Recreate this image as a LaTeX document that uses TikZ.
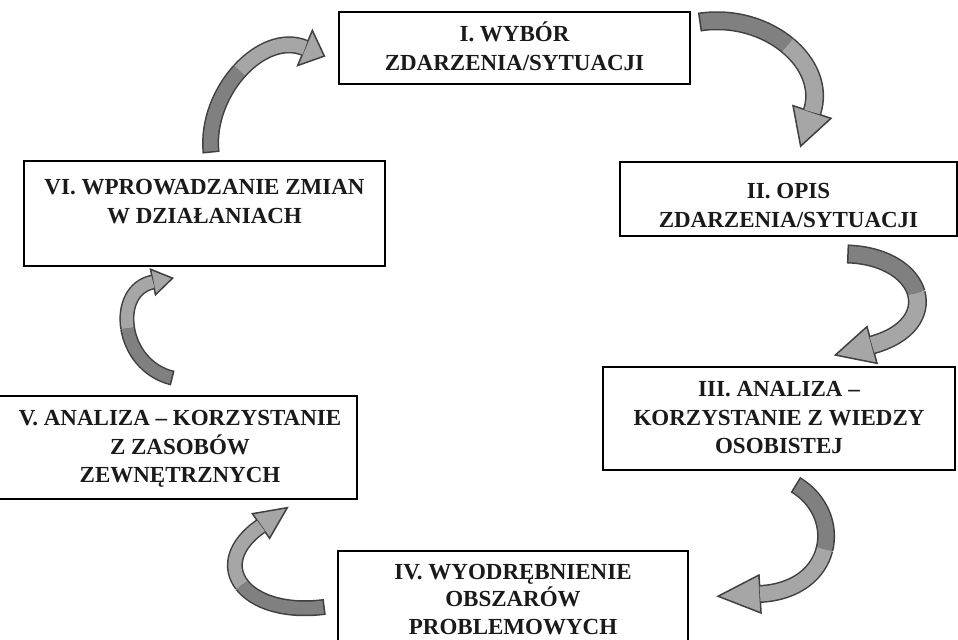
\documentclass[tikz,border=0pt]{standalone}
\usepackage{fontspec}
\setmainfont{Liberation Serif}
\usetikzlibrary{calc}
\definecolor{arrowedge}{HTML}{404040}
\definecolor{arrowdark}{HTML}{808080}
\definecolor{arrowlight}{HTML}{A6A6A6}
\definecolor{inkc}{HTML}{1A1A1A}
\tikzset{
  box/.style={draw=black, line width=1pt, inner sep=0pt, outer sep=0pt, fill=white},
  label/.style={anchor=north, inner sep=0pt, align=center, text=inkc,
    font=\bfseries\fontsize{11.5}{14.35}\selectfont},
  headstyle/.style={fill=arrowlight, draw=arrowedge, line width=0.75pt, line join=miter},
  bandstyle/.style={draw=arrowedge, line width=0.75pt},
}
\newcommand\blockarrow[7]{%
  \coordinate (q0) at #1; \coordinate (q1) at #2;
  \coordinate (q2) at #3; \coordinate (q3) at #4;
  \coordinate (m01) at ($(q0)!0.5!(q1)$);
  \coordinate (m12) at ($(q1)!0.5!(q2)$);
  \coordinate (m23) at ($(q2)!0.5!(q3)$);
  \coordinate (ca) at ($(m01)!0.5!(m12)$);
  \coordinate (cb) at ($(m12)!0.5!(m23)$);
  \coordinate (mm) at ($(ca)!0.5!(cb)$);
  \filldraw[headstyle] ($(q3)!#6!90:(q2)$) -- ($(q3)!#7!180:(q2)$) -- ($(q3)!#6!-90:(q2)$) -- cycle;
  \draw[bandstyle, double=arrowdark, double distance=#5] (q0) .. controls (m01) and (ca) .. (mm);
  \draw[bandstyle, double=arrowlight, double distance=#5] (mm) .. controls (cb) and (m23) .. (q3);
  \draw[arrowedge, line width=0.75pt] ($(q0)!0.5*#5+0.75pt!90:(q1)$) -- ($(q0)!0.5*#5+0.75pt!-90:(q1)$);
}
\newcommand\lstrut{\rule{0pt}{12pt}}
\begin{document}
\begin{tikzpicture}[x=0.5pt, y=-0.5pt]
\useasboundingbox (0,0) rectangle (958,640);
\fill[white] (0,0) rectangle (958,640);

% boxes
\node[box, minimum width=175.5pt, minimum height=36pt]   (b1) at (514.5,48)    {};
\node[box, minimum width=168.5pt, minimum height=37pt]   (b2) at (788.5,199)   {};
\node[box, minimum width=176pt,   minimum height=51.5pt] (b3) at (779,418.5)   {};
\node[box, minimum width=175pt,   minimum height=54.5pt] (b4) at (513,605.5)   {};
\node[box, minimum width=181pt,   minimum height=51.5pt] (b5) at (176,447.5)   {};
\node[box, minimum width=180.5pt, minimum height=52.5pt] (b6) at (204.5,213.5) {};

% texts (north = first baseline - 24px)
\node[label] (t1) at (514.5,17)  {\lstrut I. WYBÓR\\ZDARZENIA/SYTUACJI};
\node[label] (t2) at (788.5,174) {\lstrut II. OPIS\\ZDARZENIA/SYTUACJI};
\node[label] (t3) at (779,372)   {\lstrut III. ANALIZA –\\KORZYSTANIE Z WIEDZY\\OSOBISTEJ};
\node[label, font=\bfseries\fontsize{11.5}{13.7}\selectfont] (t4) at (513,555)
  {\lstrut IV. WYODRĘBNIENIE\\OBSZARÓW\\PROBLEMOWYCH};
\node[label] (t5) at (180,401)   {\lstrut V. ANALIZA – KORZYSTANIE\\Z ZASOBÓW\\ZEWNĘTRZNYCH};
\node[label] (t6) at (204.5,170) {\lstrut VI. WPROWADZANIE ZMIAN\\W DZIAŁANIACH};

% curved block arrows
\blockarrow{(211,152)}{(205,92)}{(262,30)}{(305,48)}{7pt}{9.5pt}{10.5pt}
\blockarrow{(700,22)}{(768,12)}{(828,64)}{(812,112)}{8pt}{10pt}{18pt}
\blockarrow{(848,254)}{(925,257)}{(945,325)}{(872,345)}{8pt}{9.5pt}{19pt}
\blockarrow{(796,485)}{(845,515)}{(835,590)}{(760,594)}{7.5pt}{9.5pt}{21pt}
\blockarrow{(324,607)}{(245,617)}{(205,565)}{(261,526)}{6.5pt}{7.5pt}{16pt}
\blockarrow{(172,378)}{(120,365)}{(112,290)}{(153,282)}{6pt}{6.5pt}{10pt}
\end{tikzpicture}
\end{document}
